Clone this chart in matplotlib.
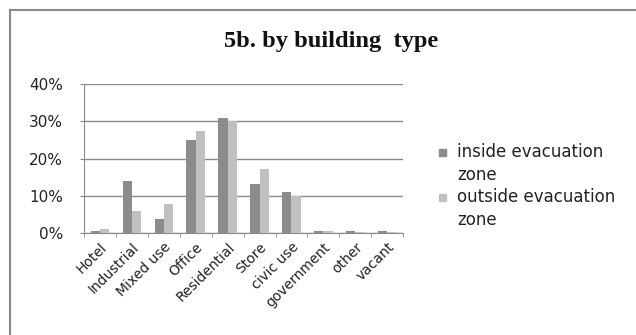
import matplotlib
matplotlib.use("Agg")
import matplotlib.pyplot as plt
from matplotlib.patches import Rectangle
import numpy as np

categories = ["Hotel", "Industrial", "Mixed use", "Office", "Residential",
              "Store", "civic use", "government", "other", "vacant"]
inside = [0.5, 14.0, 3.8, 24.9, 31.0, 13.1, 10.9, 0.5, 0.5, 0.5]
outside = [1.1, 6.0, 7.8, 27.5, 30.1, 17.2, 10.0, 0.5, 0.4, 0.4]
series_names = ["inside evacuation\nzone", "outside evacuation\nzone"]
yticks = [0, 10, 20, 30, 40]

dark = "#8c8c8c"
light = "#c0c0c0"
grid = "#8a8a8a"
txt = "#222222"

plt.rcParams["font.family"] = ["DejaVu Sans"]

fig = plt.figure(figsize=(6.36, 3.35), dpi=100)
ax = fig.add_axes([0.132, 0.3045, 0.502, 0.4445])

x = np.arange(len(categories))
w = 0.29
ax.bar(x - w / 2, inside, w, color=dark, zorder=3)
ax.bar(x + w / 2, outside, w, color=light, zorder=3)

ax.set_xlim(-0.5, len(categories) - 0.5)
ax.set_ylim(0, 40)
ax.set_yticks(yticks)
ax.set_yticklabels([f"{v}%" for v in yticks], fontsize=11, color=txt)
ax.yaxis.grid(True, color=grid, lw=1.0, zorder=0)
ax.tick_params(axis="y", length=3, color=grid, pad=12)

ax.set_xticks(x)
ax.set_xticklabels(categories, rotation=45, ha="right", rotation_mode="anchor",
                   fontsize=10, color=txt)
ax.set_xticks(np.arange(-0.5, len(categories)), minor=True)
ax.tick_params(axis="x", which="major", length=0, pad=5)
ax.tick_params(axis="x", which="minor", length=3, color=grid)

for s in ["top", "right"]:
    ax.spines[s].set_visible(False)
ax.spines["left"].set_color(grid)
ax.spines["bottom"].set_color(grid)

fig.text(0.52, 0.875, "5b. by building  type", ha="center", va="center",
         family="Liberation Serif", fontweight="bold", fontsize=17.6, color="#111111")

# legend on the right: small square + two-line label per series
W, H = 636, 335
for name, col, ytop in zip(series_names, [dark, light], [152, 197]):
    fig.add_artist(Rectangle(((439) / W, 1 - (ytop + 3.5) / H), 7 / W, 7 / H,
                             color=col, transform=fig.transFigure))
    fig.text(457 / W, 1 - (ytop - 8.5) / H, name, ha="left", va="top",
             fontsize=12, color=txt, linespacing=1.3)

# outer chart border, top and left edges only
fig.add_artist(plt.Line2D([0.0155, 0.0155], [0, 0.97], color="#888888", lw=1.5,
                          transform=fig.transFigure))
fig.add_artist(plt.Line2D([0.0155, 1.0], [0.97, 0.97], color="#888888", lw=1.5,
                          transform=fig.transFigure))

fig.savefig("out.png", dpi=100)
